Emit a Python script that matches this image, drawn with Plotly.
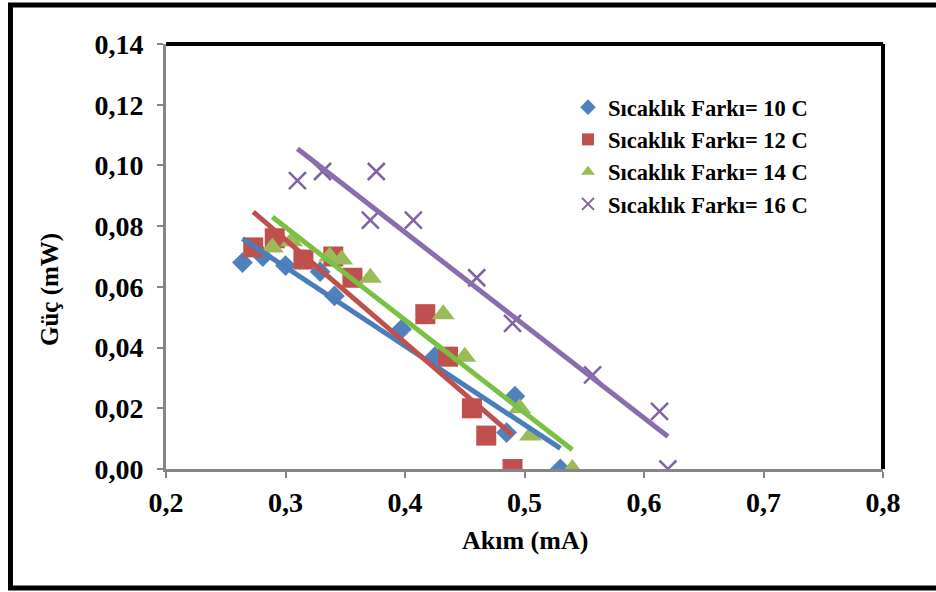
import numpy as np
import plotly.graph_objects as go

# ---- data ----
x10 = [0.264, 0.281, 0.300, 0.329, 0.341, 0.397, 0.425, 0.485, 0.492, 0.530]
y10 = [0.068, 0.070, 0.067, 0.065, 0.057, 0.046, 0.037, 0.012, 0.024, 0.000]

x12 = [0.273, 0.291, 0.315, 0.340, 0.356, 0.417, 0.436, 0.456, 0.468, 0.490]
y12 = [0.073, 0.076, 0.069, 0.070, 0.063, 0.051, 0.037, 0.020, 0.011, 0.000]

x14 = [0.289, 0.305, 0.337, 0.347, 0.371, 0.432, 0.450, 0.496, 0.505, 0.540]
y14 = [0.073, 0.075, 0.070, 0.069, 0.063, 0.051, 0.037, 0.020, 0.011, 0.000]

x16 = [0.310, 0.331, 0.376, 0.371, 0.407, 0.460, 0.490, 0.557, 0.613, 0.620]
y16 = [0.095, 0.098, 0.098, 0.082, 0.082, 0.063, 0.048, 0.031, 0.019, 0.000]

names = ["Sıcaklık Farkı= 10 C", "Sıcaklık Farkı= 12 C",
         "Sıcaklık Farkı= 14 C", "Sıcaklık Farkı= 16 C"]
x_ticks = [0.2, 0.3, 0.4, 0.5, 0.6, 0.7, 0.8]
y_ticks = [0.00, 0.02, 0.04, 0.06, 0.08, 0.10, 0.12, 0.14]
x_title = "Akım (mA)"
y_title = "Güç (mW)"

series = [(x10, y10), (x12, y12), (x14, y14), (x16, y16)]
marker_colors = ["#4F81BD", "#C0504D", "#9BBB59", "#8064A2"]
line_colors = ["#4A7EBB", "#C0504D", "#7AC143", "#8A6DAE"]
symbols = ["diamond", "square", "triangle-up", "x-thin-open"]
sizes = [16, 20, 20, 17]

FONT = "Liberation Serif"

fig = go.Figure()
for (xs, ys), c, s, sz, n in zip(series, marker_colors, symbols, sizes, names):
    m = dict(color=c, symbol=s, size=sz)
    if s.startswith("x"):
        m["line"] = dict(color=c, width=2.5)
    fig.add_trace(go.Scatter(x=xs, y=ys, mode="markers", name=n, marker=m))

for (xs, ys), c in zip(series, line_colors):
    a, b = np.polyfit(xs, ys, 1)
    xe = np.array([min(xs), max(xs)])
    fig.add_trace(go.Scatter(x=xe, y=a * xe + b, mode="lines", showlegend=False,
                             line=dict(color=c, width=5), hoverinfo="skip"))

L, R, T, B = 166, 53, 44, 123
W, H = 936, 592
pw, ph = W - L - R, H - T - B

def px(v):
    return (v - L) / pw

def py(v):
    return (H - B - v) / ph

TICKFONT = dict(family=FONT, size=28, weight="bold", color="black")

fig.update_layout(
    width=W, height=H,
    margin=dict(l=L, r=R, t=T, b=B),
    paper_bgcolor="white", plot_bgcolor="white",
    separators=",.",
    font=dict(family=FONT, color="black", size=24),
    showlegend=True,
    legend=dict(x=px(568), y=py(86), xanchor="left", yanchor="top",
                bgcolor="rgba(0,0,0,0)", itemsizing="constant",
                font=dict(family=FONT, size=22.5, color="black", weight="bold"),
                tracegroupgap=0),
    xaxis=dict(range=[0.2, 0.8], tickvals=x_ticks, tickformat=".1f",
               showgrid=False, zeroline=False, showline=True,
               linecolor="#868686", linewidth=3, ticks="outside",
               ticklen=6, tickwidth=2, tickcolor="#868686",
               tickfont=TICKFONT),
    yaxis=dict(range=[0, 0.14], tickvals=y_ticks, tickformat=".2f",
               showgrid=False, zeroline=False, showline=True,
               linecolor="#868686", linewidth=3, ticks="outside",
               ticklen=6, tickwidth=2, tickcolor="#868686",
               ticklabelstandoff=8, tickfont=TICKFONT),
    shapes=[
        dict(type="line", xref="paper", yref="paper", x0=0, x1=1, y0=1, y1=1,
             line=dict(color="black", width=4)),
        dict(type="line", xref="paper", yref="paper", x0=1, x1=1, y0=0, y1=1,
             line=dict(color="black", width=4)),
        dict(type="rect", xref="paper", yref="paper",
             x0=px(10.5), x1=px(945), y0=py(588), y1=py(5),
             line=dict(color="black", width=5), fillcolor="rgba(0,0,0,0)"),
    ],
    annotations=[
        dict(text=x_title, xref="paper", yref="paper", x=0.5, y=py(540),
             showarrow=False, xanchor="center", yanchor="middle",
             font=dict(family=FONT, size=26, weight="bold")),
        dict(text=y_title, xref="paper", yref="paper", x=px(50), y=py(290),
             showarrow=False, xanchor="center", yanchor="middle", textangle=-90,
             font=dict(family=FONT, size=25, weight="bold")),
    ],
)

fig.write_html(
    "out.html",
    config={"displayModeBar": False},
    post_script="document.body.style.margin='0';document.body.style.overflow='hidden';",
)
